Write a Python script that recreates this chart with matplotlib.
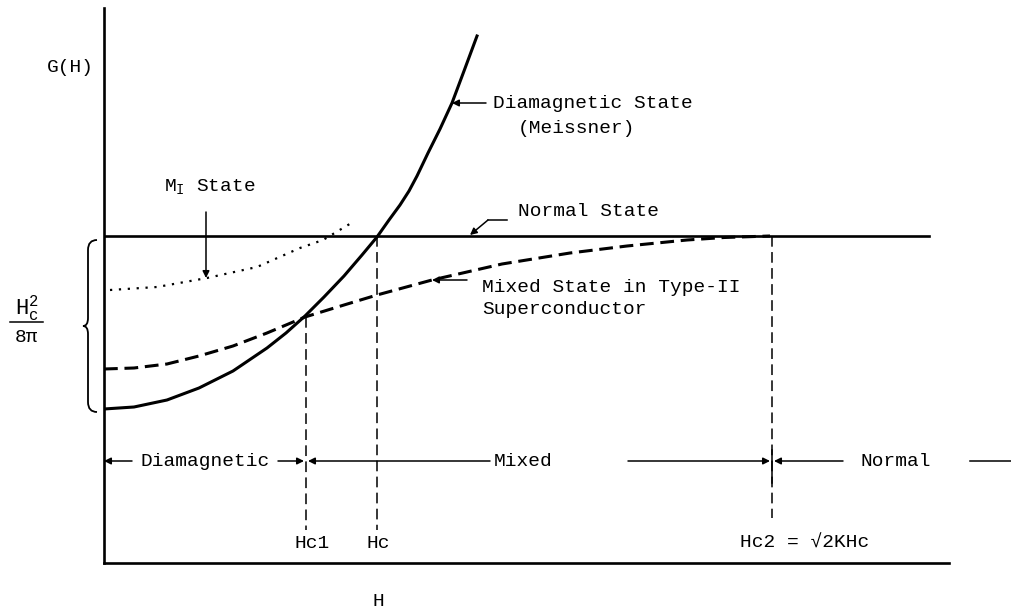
import numpy as np
import matplotlib.pyplot as plt
from matplotlib.path import Path
from matplotlib.patches import PathPatch

plt.rcParams['font.family'] = ['Liberation Mono', 'DejaVu Sans Mono']
plt.rcParams['mathtext.fontset'] = 'custom'
plt.rcParams['mathtext.rm'] = 'Liberation Mono'
plt.rcParams['mathtext.it'] = 'Liberation Mono'

# curves (H, G) in arbitrary units
meissner_h = [0.0, 0.30, 0.63, 0.95, 1.29, 1.63, 1.82, 2.01, 2.20, 2.40, 2.58, 2.73,
              2.85, 2.96, 3.05, 3.13, 3.24, 3.36, 3.48, 3.60, 3.73]
meissner_g = [1.54, 1.56, 1.63, 1.75, 1.92, 2.15, 2.30, 2.47, 2.66, 2.87, 3.08, 3.26,
              3.43, 3.58, 3.72, 3.87, 4.10, 4.34, 4.60, 4.92, 5.27]

mixed_h = [0.0, 0.30, 0.63, 0.95, 1.29, 1.63, 2.01, 2.40, 2.73, 3.28, 3.98, 4.66,
           5.23, 5.83, 6.20, 6.66]
mixed_g = [1.94, 1.95, 1.99, 2.07, 2.17, 2.30, 2.46, 2.58, 2.68, 2.83, 2.99, 3.10,
           3.17, 3.23, 3.255, 3.27]

mi_h = [0.06, 0.53, 1.03, 1.53, 1.96, 2.19, 2.49]
mi_g = [2.73, 2.76, 2.85, 2.96, 3.15, 3.23, 3.41]

g_normal = 3.27
h_normal_end = 8.25
hc1, hc, hc2 = 2.02, 2.73, 6.68

fig = plt.figure(figsize=(10.11, 6.13), dpi=100)
ax = fig.add_axes([104/1011, 50/613, 907/1011, 563/613])
ax.set_xlim(0, 9.07)
ax.set_ylim(0, 5.63)
ax.spines['top'].set_visible(False)
ax.spines['right'].set_visible(False)
ax.spines['left'].set_bounds(0, 5.55)
ax.spines['bottom'].set_bounds(0, 8.45)
for s in ('left', 'bottom'):
    ax.spines[s].set_linewidth(1.9)
ax.set_xticks([])
ax.set_yticks([])
ax.patch.set_alpha(0)

ax.plot(meissner_h, meissner_g, color='black', lw=2.2)
ax.plot(mixed_h, mixed_g, color='black', lw=2.2, dashes=(4.5, 2.2))
ax.plot(mi_h, mi_g, color='black', lw=1.6, linestyle=(0, (1, 3)))
ax.plot([0, h_normal_end], [g_normal, g_normal], color='black', lw=1.9)

vd = dict(color='black', lw=1.1, dashes=(7, 3.5))
ax.plot([hc1, hc1], [2.46, 0.33], **vd)
ax.plot([hc, hc], [g_normal, 0.33], **vd)
ax.plot([hc2, hc2], [g_normal, 0.45], **vd)
ax.plot([hc2, hc2], [0.80, 1.13], color='black', lw=1.1)

fs = 14
tkw = dict(fontsize=fs, color='black')

# region arrows
ar = dict(arrowstyle='-|>', color='black', lw=1.1, mutation_scale=10, shrinkA=0, shrinkB=0)
yr = 1.02
ax.annotate('', xy=(0.0, yr), xytext=(0.28, yr), arrowprops=ar)
ax.annotate('', xy=(2.0, yr), xytext=(1.74, yr), arrowprops=ar)
ax.annotate('', xy=(2.04, yr), xytext=(3.86, yr), arrowprops=ar)
ax.annotate('', xy=(6.66, yr), xytext=(5.24, yr), arrowprops=ar)
ax.annotate('', xy=(6.70, yr), xytext=(7.39, yr), arrowprops=ar)
ax.plot([8.66, 9.07], [yr, yr], color='black', lw=1.1, clip_on=False)
ax.text(1.01, yr, 'Diamagnetic', ha='center', va='center', **tkw)
ax.text(3.90, yr, 'Mixed', ha='left', va='center', **tkw)
ax.text(7.56, yr, 'Normal', ha='left', va='center', **tkw)

ax.text(hc1 + 0.06, 0.20, 'Hc1', ha='center', va='center', **tkw)
ax.text(hc + 0.01, 0.20, 'Hc', ha='center', va='center', **tkw)
ax.text(7.01, 0.20, 'Hc2 = \u221a2KHc', ha='center', va='center', **tkw)
ax.text(2.74, -0.39, 'H', ha='center', va='center', **tkw)
ax.text(-0.10, 4.96, 'G(H)', ha='right', va='center', **tkw)

# labelled states
ax.annotate('', xy=(3.48, 4.60), xytext=(3.82, 4.60), arrowprops=ar)
ax.text(3.89, 4.60, 'Diamagnetic State', ha='left', va='center', **tkw)
ax.text(4.14, 4.35, '(Meissner)', ha='left', va='center', **tkw)

ax.plot([4.03, 3.84], [3.43, 3.43], color='black', lw=1.1)
ax.annotate('', xy=(3.66, 3.28), xytext=(3.84, 3.43), arrowprops=ar)
ax.text(4.14, 3.51, 'Normal State', ha='left', va='center', **tkw)

ax.annotate('', xy=(3.28, 2.83), xytext=(3.63, 2.83), arrowprops=ar)
ax.text(3.78, 2.75, 'Mixed State in Type-II', ha='left', va='center', **tkw)
ax.text(3.78, 2.53, 'Superconductor', ha='left', va='center', **tkw)

ax.annotate('', xy=(1.02, 2.85), xytext=(1.02, 3.51), arrowprops=ar)
ax.text(0.60, 3.76, r'$\mathrm{M_I}$ State', ha='left', va='center', **tkw)

# brace and H_c^2 / 8pi
verts = [(-0.07, 3.23), (-0.16, 3.23), (-0.16, 3.13),
         (-0.16, 2.45), (-0.16, 2.37), (-0.21, 2.37),
         (-0.16, 2.37), (-0.16, 2.29), (-0.16, 1.61),
         (-0.16, 1.51), (-0.07, 1.51)]
codes = [Path.MOVETO, Path.CURVE3, Path.CURVE3,
         Path.LINETO, Path.CURVE3, Path.CURVE3,
         Path.CURVE3, Path.CURVE3, Path.LINETO,
         Path.CURVE3, Path.CURVE3]
ax.add_patch(PathPatch(Path(verts, codes), fill=False, lw=1.3, color='black', clip_on=False))
ax.text(-0.77, 2.55, r'$\mathrm{H_c^2}$', ha='center', va='center', fontsize=16)
ax.plot([-0.94, -0.61], [2.41, 2.41], color='black', lw=1.1, clip_on=False)
ax.text(-0.77, 2.25, '8\u03c0', ha='center', va='center', **tkw)

fig.savefig('out.png', dpi=100)
